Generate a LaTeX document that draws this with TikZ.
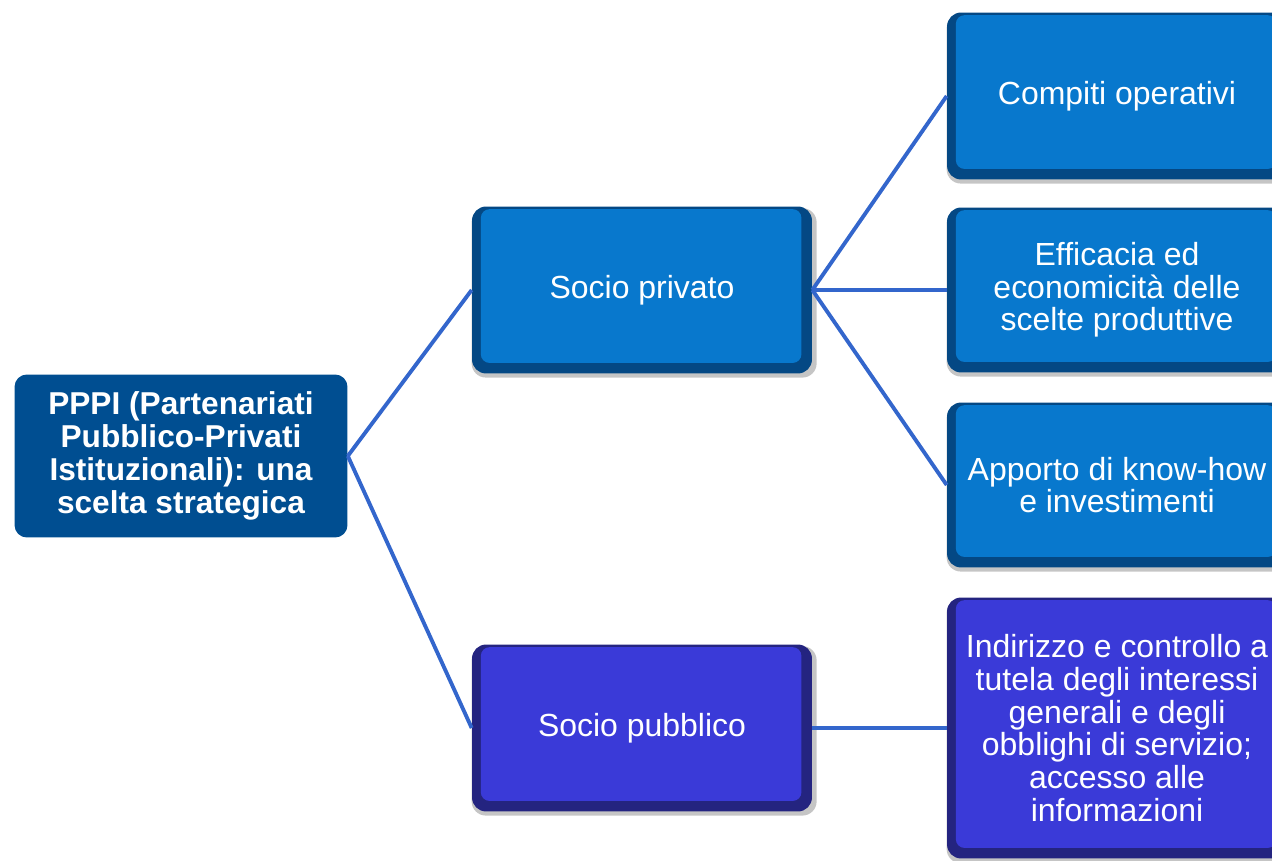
\documentclass[tikz,border=0pt]{standalone}
\usepackage{fontspec}
\setmainfont{Liberation Sans}
\usetikzlibrary{shadows}

\definecolor{rootblue}{RGB}{0,78,145}
\definecolor{privlight}{RGB}{8,120,205}
\definecolor{privdark}{RGB}{4,72,132}
\definecolor{publight}{RGB}{58,58,216}
\definecolor{pubdark}{RGB}{36,36,128}
\definecolor{linkblue}{RGB}{51,102,204}

\begin{document}
\begin{tikzpicture}[
  x=0.02cm, y=-0.02cm,
  rootbox/.style = {rounded corners=7pt, fill=rootblue, text=white, align=center,
    font=\bfseries\fontsize{18}{18.7}\selectfont,
    minimum width=6.66cm, minimum height=3.26cm, inner sep=2pt},
  bevelbox/.style 2 args = {rounded corners=8pt, fill=#2, text=white, align=center,
    font=\fontsize{18.2}{18.6}\selectfont,
    minimum width=6.8cm, minimum height=3.34cm, inner sep=2pt,
    drop shadow={shadow xshift=1.2pt, shadow yshift=-1.6pt, shadow scale=1.015, fill=black!45},
    path picture={\fill[#1, rounded corners=5pt]
      ([xshift=5pt, yshift=6pt]path picture bounding box.south west) rectangle
      ([xshift=-6pt, yshift=-1.5pt]path picture bounding box.north east);}},
  privbox/.style = {bevelbox={privlight}{privdark}},
  pubbox/.style = {bevelbox={publight}{pubdark}},
  link/.style = {draw=linkblue, line width=2.2pt}
]
  \useasboundingbox (0,0) rectangle (1272,861);
  \clip (0,0) rectangle (1272,861);

  % root of the tree
  \node[rootbox] (pppi) at (181,456)
    {PPPI (Partenariati\\Pubblico-Privati\\Istituzionali): una\\scelta strategica};

  % the two partners
  \node[privbox] (privato) at (642,290) {Socio privato};
  \node[pubbox] (pubblico) at (642,728) {Socio pubblico};

  % roles of the private partner
  \node[privbox] (compiti) at (1117,96) {Compiti operativi};
  \node[privbox, minimum height=3.3cm] (efficacia) at (1117,290)
    {Efficacia ed\\economicità delle\\scelte produttive};
  \node[privbox, minimum height=3.3cm] (apporto) at (1117,485)
    {Apporto di know-how\\e investimenti};

  % role of the public partner
  \node[pubbox, minimum height=5.22cm] (indirizzo) at (1117,728)
    {Indirizzo e controllo a\\tutela degli interessi\\generali e degli\\obblighi di servizio;\\accesso alle\\informazioni};

  % connectors
  \draw[link] (pppi.east) -- (privato.west);
  \draw[link] (pppi.east) -- (pubblico.west);
  \draw[link] (privato.east) -- (compiti.west);
  \draw[link] (privato.east) -- (efficacia.west);
  \draw[link] (privato.east) -- (apporto.west);
  \draw[link] (pubblico.east) -- (indirizzo.west);

\end{tikzpicture}
\end{document}
